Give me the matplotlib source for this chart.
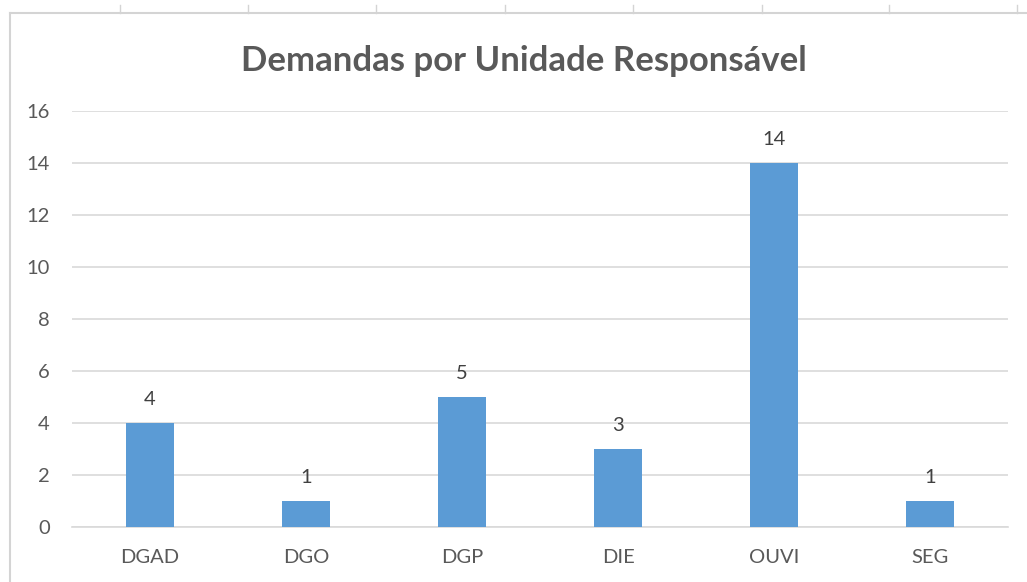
import matplotlib
matplotlib.use("Agg")
import matplotlib.pyplot as plt
from matplotlib.lines import Line2D

categories = ["DGAD", "DGO", "DGP", "DIE", "OUVI", "SEG"]
values = [4, 1, 5, 3, 14, 1]
yticks = [0, 2, 4, 6, 8, 10, 12, 14, 16]
title = "Demandas por Unidade Responsável"

W, H = 1027, 582
fig = plt.figure(figsize=(W / 100, H / 100), dpi=100)
fig.patch.set_facecolor("white")
plt.rcParams["font.family"] = ["Lato", "DejaVu Sans"]

text_c = "#595959"
grid_c = "#D9D9D9"
bar_c = "#5B9BD5"

# outer frame (sheet border) and column tick marks
def fx(x): return x / W
def fy(y): return 1 - y / H
fig.add_artist(Line2D([fx(10), fx(10)], [fy(13), fy(582)], color="#D4D4D4", lw=1.5))
fig.add_artist(Line2D([fx(10), fx(1027)], [fy(13), fy(13)], color="#D4D4D4", lw=1.5))
for xt in [120, 248, 376, 505, 633, 762, 889, 1017]:
    fig.add_artist(Line2D([fx(xt), fx(xt)], [fy(5), fy(13)], color="#D4D4D4", lw=1))

ax = fig.add_axes([fx(72), fy(527), (1008 - 72) / W, (527 - 111) / H])
x = list(range(len(categories)))
bars = ax.bar(x, values, width=0.31, color=bar_c, zorder=3)
ax.set_xlim(-0.5, len(categories) - 0.5)
ax.set_ylim(0, 16)
ax.set_yticks(yticks)
ax.set_xticks(x)
ax.set_xticklabels(categories)
ax.grid(axis="y", color=grid_c, lw=1.2, zorder=0)
for s in ["top", "right", "left"]:
    ax.spines[s].set_visible(False)
ax.spines["bottom"].set_color(grid_c)
ax.spines["bottom"].set_linewidth(1.2)
ax.tick_params(axis="both", length=0, colors=text_c, labelsize=14.5)
ax.tick_params(axis="y", pad=16)
ax.tick_params(axis="x", pad=16)
for xi, v in zip(x, values):
    ax.annotate(str(v), (xi, v), xytext=(0, 11), textcoords="offset points",
                ha="center", va="bottom", color="#404040", fontsize=14.5)

fig.text(fx(524), fy(61), title, ha="center", va="center", fontsize=25,
         fontweight="bold", color=text_c)

fig.savefig("out.png", dpi=100, facecolor="white")
